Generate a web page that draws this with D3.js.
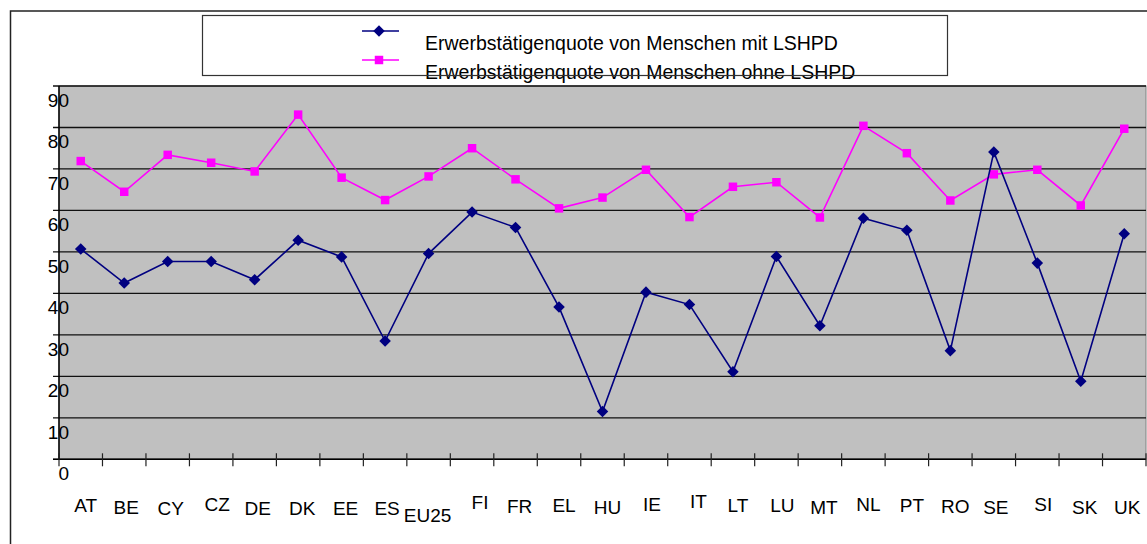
<!DOCTYPE html>
<html>
<head>
<meta charset="utf-8">
<script src="https://cdn.jsdelivr.net/npm/d3@7"></script>
<style>
    body { margin: 0; background: #fff; }
    svg { display: block; font-family: "Liberation Sans", Arial, sans-serif; }
</style>
</head>
<body>
<div id="chart"></div>
<script>
// Data
const countries = ["AT", "BE", "CY", "CZ", "DE", "DK", "EE", "ES", "EU25", "FI", "FR", "EL", "HU",
    "IE", "IT", "LT", "LU", "MT", "NL", "PT", "RO", "SE", "SI", "SK", "UK"];
const withLSHPD = [50.7, 42.5, 47.7, 47.7, 43.3, 52.8, 48.8, 28.5, 49.6, 59.6, 55.9, 36.7, 11.5,
    40.3, 37.3, 21.1, 48.9, 32.2, 58.1, 55.2, 26.2, 74.1, 47.3, 18.8, 54.4];
const withoutLSHPD = [71.9, 64.5, 73.4, 71.5, 69.4, 83.1, 67.9, 62.5, 68.2, 75.0, 67.5, 60.5, 63.1,
    69.8, 58.4, 65.7, 66.8, 58.3, 80.4, 73.8, 62.4, 68.7, 69.8, 61.2, 79.7];
const yTicks = [0, 10, 20, 30, 40, 50, 60, 70, 80, 90];
const seriesNames = ["Erwerbstätigenquote von Menschen mit LSHPD",
    "Erwerbstätigenquote von Menschen ohne LSHPD"];

// Layout: the category labels sit unevenly in the original (pixel nudges)
const labelDrop = [-2, 0, 1, -3, 1, 1, 1, 1, 8, -5, -1, -2, 0, -3, -6, -2, -2, 0, -3, -2, -1, 0, -3, 0, 0];
const labelShift = [5, 2, 3, 6, 3, 4, 4, 2, -1, 8, 4, 5, 5, 6, 9, 5, 6, 4, 5, 5, 5, 2, 6, 4, 3];

const width = 1147;
const height = 544;
const plot = { left: 59, right: 1146, top: 86, bottom: 459.3 };
const fontSize = 19;

const svg = d3.select("#chart").append("svg")
    .attr("width", width)
    .attr("height", height);

// Outer chart frame (right and bottom run off the picture)
svg.append("rect")
    .attr("x", 10.5).attr("y", 11)
    .attr("width", 1200).attr("height", 600)
    .attr("fill", "#fff")
    .attr("stroke", "#222")
    .attr("stroke-width", 1.5);

const x = d3.scaleBand()
    .domain(countries)
    .range([plot.left, plot.right]);
const y = d3.scaleLinear()
    .domain([0, 90])
    .range([plot.bottom, plot.top]);

// Plot area
svg.append("rect")
    .attr("x", plot.left).attr("y", plot.top)
    .attr("width", plot.right - plot.left)
    .attr("height", plot.bottom - plot.top)
    .attr("fill", "#c0c0c0")
    .attr("stroke", "#808080")
    .attr("stroke-width", 1);

// Gridlines and y tick marks
svg.selectAll(".grid")
    .data(yTicks)
    .enter()
    .append("line")
    .attr("class", "grid")
    .attr("x1", plot.left - 6)
    .attr("x2", plot.right)
    .attr("y1", d => y(d))
    .attr("y2", d => y(d))
    .attr("stroke", "#111")
    .attr("stroke-width", 1.3);

svg.selectAll(".ylabel")
    .data(yTicks)
    .enter()
    .append("text")
    .attr("class", "ylabel")
    .attr("x", 69)
    .attr("y", d => y(d) + 21)
    .attr("text-anchor", "end")
    .attr("font-size", fontSize)
    .attr("fill", "#000")
    .text(d => d);

// Axes lines
svg.append("line")
    .attr("x1", plot.left).attr("x2", plot.left)
    .attr("y1", plot.top).attr("y2", plot.bottom)
    .attr("stroke", "#000").attr("stroke-width", 1.5);
svg.append("line")
    .attr("x1", plot.left - 6).attr("x2", plot.right)
    .attr("y1", plot.bottom).attr("y2", plot.bottom)
    .attr("stroke", "#000").attr("stroke-width", 1.5);

// X ticks at the band boundaries
const boundaries = countries.map(c => x(c)).concat([plot.right]);
svg.selectAll(".xtick")
    .data(boundaries)
    .enter()
    .append("line")
    .attr("class", "xtick")
    .attr("x1", d => d).attr("x2", d => d)
    .attr("y1", plot.bottom - 6).attr("y2", plot.bottom + 7)
    .attr("stroke", "#222").attr("stroke-width", 1.2);

svg.selectAll(".xlabel")
    .data(countries)
    .enter()
    .append("text")
    .attr("class", "xlabel")
    .attr("x", (d, i) => x(d) + x.bandwidth() / 2 + labelShift[i])
    .attr("y", (d, i) => 514 + labelDrop[i])
    .attr("text-anchor", "middle")
    .attr("font-size", fontSize)
    .attr("fill", "#000")
    .text(d => d);

// Series
const cx = (d, i) => x(countries[i]) + x.bandwidth() / 2;
const line = d3.line()
    .x((d, i) => cx(d, i))
    .y(d => y(d));

const diamond = d3.symbol().type(d3.symbolDiamond2).size(85);
const square = d3.symbol().type(d3.symbolSquare).size(72);

function drawSeries(values, color, symbol, cls) {
    svg.append("path")
        .datum(values)
        .attr("d", line)
        .attr("fill", "none")
        .attr("stroke", color)
        .attr("stroke-width", 1.6);

    svg.selectAll("." + cls)
        .data(values)
        .enter()
        .append("path")
        .attr("class", cls)
        .attr("transform", (d, i) => `translate(${cx(d, i)},${y(d)})`)
        .attr("d", symbol)
        .attr("fill", color);
}

drawSeries(withoutLSHPD, "#ff00ff", square, "pink-mark");
drawSeries(withLSHPD, "#000080", diamond, "navy-mark");

// Legend
const legend = svg.append("g").attr("class", "legend");
legend.append("rect")
    .attr("x", 202.5).attr("y", 15.5)
    .attr("width", 745).attr("height", 60)
    .attr("fill", "#fff")
    .attr("stroke", "#333")
    .attr("stroke-width", 1.2);

const legendItems = [
    { name: seriesNames[0], color: "#000080", symbol: diamond, ly: 31, ty: 50 },
    { name: seriesNames[1], color: "#ff00ff", symbol: square, ly: 60, ty: 79 }
];

legendItems.forEach(item => {
    legend.append("line")
        .attr("x1", 362).attr("x2", 399)
        .attr("y1", item.ly).attr("y2", item.ly)
        .attr("stroke", item.color)
        .attr("stroke-width", 1.6);
    legend.append("path")
        .attr("transform", `translate(379,${item.ly})`)
        .attr("d", item.symbol)
        .attr("fill", item.color);
    legend.append("text")
        .attr("x", 425)
        .attr("y", item.ty)
        .attr("font-size", fontSize + 0.5)
        .attr("fill", "#000")
        .text(item.name);
});

// The legend box edge runs over the second entry in the original
legend.append("line")
    .attr("x1", 202.5).attr("x2", 947.5)
    .attr("y1", 75.5).attr("y2", 75.5)
    .attr("stroke", "#333")
    .attr("stroke-width", 1.2);
</script>
</body>
</html>
